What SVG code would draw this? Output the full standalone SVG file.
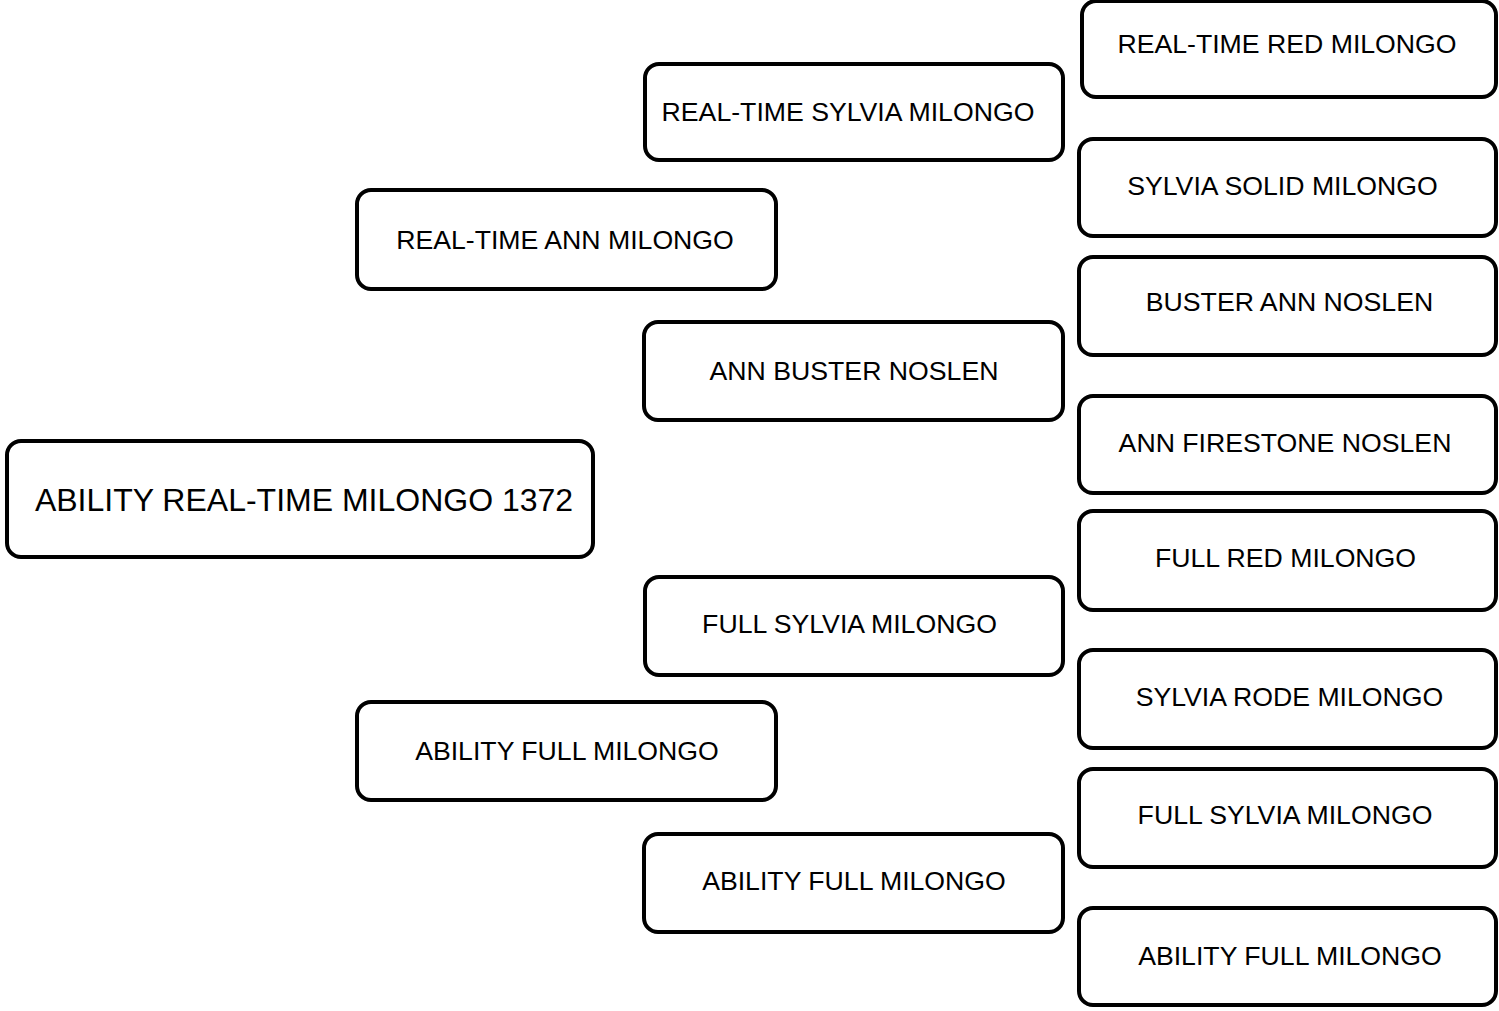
<svg xmlns="http://www.w3.org/2000/svg" width="1499" height="1011" viewBox="0 0 1499 1011">
<style>
.box{fill:#fff;stroke:#000;stroke-width:4}
.t{font-family:"Liberation Sans",Arial,sans-serif;font-size:26.67px;fill:#000;text-anchor:middle}
.big{font-size:32px}
</style>
<rect width="1499" height="1011" fill="#fff"/>
<g id="connectors"></g>
<g id="n-root"><rect class="box" x="7" y="441" width="586" height="116" rx="14"/><text class="t big" x="304" y="511">ABILITY REAL-TIME MILONGO 1372</text></g>
<g id="n-rt-ann"><rect class="box" x="357" y="190" width="419" height="99" rx="14"/><text class="t" x="565" y="249">REAL-TIME ANN MILONGO</text></g>
<g id="n-ability-full-2"><rect class="box" x="357" y="702" width="419" height="98" rx="14"/><text class="t" x="567" y="760">ABILITY FULL MILONGO</text></g>
<g id="n-rt-sylvia"><rect class="box" x="645" y="64" width="418" height="96" rx="14"/><text class="t" x="848" y="121">REAL-TIME SYLVIA MILONGO</text></g>
<g id="n-ann-buster"><rect class="box" x="644" y="322" width="419" height="98" rx="14"/><text class="t" x="854" y="380">ANN BUSTER NOSLEN</text></g>
<g id="n-full-sylvia-3"><rect class="box" x="645" y="577" width="418" height="98" rx="14"/><text class="t" x="849.5" y="633">FULL SYLVIA MILONGO</text></g>
<g id="n-ability-full-3"><rect class="box" x="644" y="834" width="419" height="98" rx="14"/><text class="t" x="854" y="890">ABILITY FULL MILONGO</text></g>
<g id="n-rt-red"><rect class="box" x="1082" y="1" width="414" height="96" rx="14"/><text class="t" x="1287" y="53">REAL-TIME RED MILONGO</text></g>
<g id="n-sylvia-solid"><rect class="box" x="1079" y="139" width="417" height="97" rx="14"/><text class="t" x="1282.5" y="195">SYLVIA SOLID MILONGO</text></g>
<g id="n-buster-ann"><rect class="box" x="1079" y="257" width="417" height="98" rx="14"/><text class="t" x="1289.5" y="311">BUSTER ANN NOSLEN</text></g>
<g id="n-ann-firestone"><rect class="box" x="1079" y="396" width="417" height="97" rx="14"/><text class="t" x="1285" y="452">ANN FIRESTONE NOSLEN</text></g>
<g id="n-full-red"><rect class="box" x="1079" y="511" width="417" height="99" rx="14"/><text class="t" x="1285.5" y="567">FULL RED MILONGO</text></g>
<g id="n-sylvia-rode"><rect class="box" x="1079" y="650" width="417" height="98" rx="14"/><text class="t" x="1289.5" y="706">SYLVIA RODE MILONGO</text></g>
<g id="n-full-sylvia-4"><rect class="box" x="1079" y="769" width="417" height="98" rx="14"/><text class="t" x="1285" y="824">FULL SYLVIA MILONGO</text></g>
<g id="n-ability-full-4"><rect class="box" x="1079" y="908" width="417" height="97" rx="14"/><text class="t" x="1290" y="965">ABILITY FULL MILONGO</text></g>
</svg>
